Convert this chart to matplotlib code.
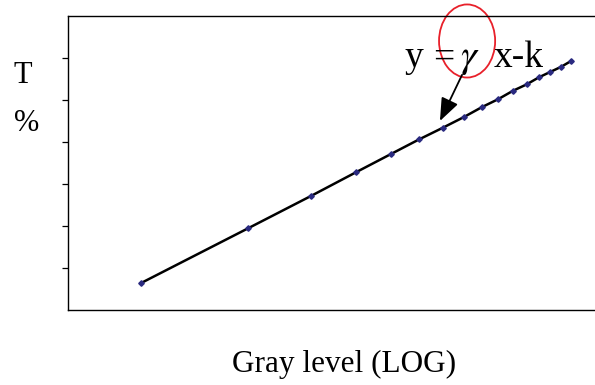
import matplotlib
matplotlib.use('Agg')
import matplotlib.pyplot as plt
from matplotlib.patches import Ellipse
import numpy as np

# gray levels (plotted on log scale) and measured T (relative units)
gray = np.array([16, 32, 48, 64, 80, 96, 112, 128, 144, 160, 176, 192, 208, 224, 240, 256])
t_val = [0.64, 1.95, 2.72, 3.28, 3.71, 4.06, 4.34, 4.59,
         4.83, 5.02, 5.22, 5.37, 5.54, 5.67, 5.79, 5.93]
log_gray = np.log10(gray)

plt.rcParams['font.family'] = ['Liberation Serif', 'DejaVu Serif']
plt.rcParams['mathtext.fontset'] = 'stix'

W, H = 595, 385
fig = plt.figure(figsize=(W / 100, H / 100), dpi=100)
ax = fig.add_axes([68 / W, (H - 310) / H, (600 - 68) / W, (310 - 16) / H])

ax.plot(log_gray, t_val, color='black', lw=1.8, zorder=2)
ax.plot(log_gray, t_val, ls='none', marker='D', ms=2.8, color='#2A2A80', zorder=3)

ax.set_xlim(1.0, 2.489)
ax.set_ylim(0, 7)
ax.set_yticks(np.arange(1, 7))
ax.set_yticklabels([])
ax.set_xticks([])
ax.tick_params(axis='y', direction='out', length=4.5, width=0.9)
ax.spines['right'].set_visible(False)
for s in ['left', 'top', 'bottom']:
    ax.spines[s].set_linewidth(1.0)

# equation y = gamma x - k, with gamma circled
eq_y = 5.78
ax.text(1.941, eq_y, 'y', fontsize=27, ha='left', va='baseline')
ax.text(2.022, eq_y, '=', fontsize=27, ha='left', va='baseline')
ax.text(2.098, eq_y, r'$\gamma$', fontsize=29, ha='left', va='baseline')
ax.text(2.192, eq_y, 'x-k', fontsize=27, ha='left', va='baseline')
ax.add_patch(Ellipse((2.117, 6.405), 0.157, 1.74, fill=False, ec='#E8202A',
                     lw=1.3, clip_on=False))
ax.annotate('', xy=(2.041, 4.5), xytext=(2.103, 5.6),
            arrowprops=dict(arrowstyle='-|>,head_length=1.4,head_width=0.55',
                            color='black', lw=1.3, shrinkA=0, shrinkB=0))

fig.text(13 / W, 1 - 83 / H, 'T', fontsize=22, ha='left', va='baseline')
fig.text(14 / W, 1 - 131 / H, '%', fontsize=22, ha='left', va='baseline')
fig.text(344 / W, 1 - 372 / H, 'Gray level (LOG)', fontsize=22.5, ha='center', va='baseline')

fig.savefig('out.png', dpi=100)
